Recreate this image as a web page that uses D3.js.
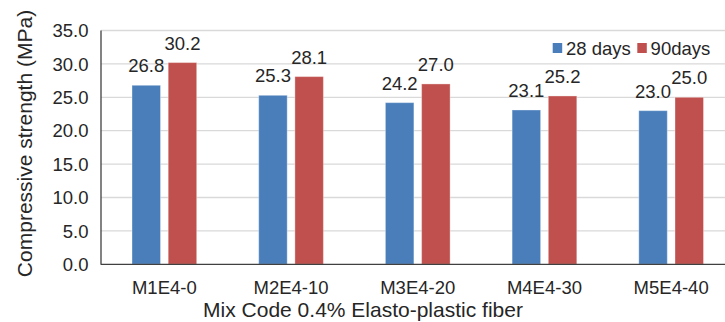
<!DOCTYPE html>
<html>
<head>
<meta charset="utf-8">
<script src="https://cdn.jsdelivr.net/npm/d3@7/dist/d3.min.js"></script>
<style>
  html, body { margin: 0; padding: 0; background: #fff; }
  svg { display: block; font-family: Arial, "Liberation Sans", sans-serif; }
</style>
</head>
<body>
<svg id="chart" width="725" height="322"></svg>
<script>
const categories = ["M1E4-0", "M2E4-10", "M3E4-20", "M4E4-30", "M5E4-40"];
const seriesNames = ["28 days", "90days"];
const days28 = [26.8, 25.3, 24.2, 23.1, 23.0];
const days90 = [30.2, 28.1, 27.0, 25.2, 25.0];
const yTicks = [0, 5, 10, 15, 20, 25, 30, 35];
const colors = ["#4a7ebb", "#c0504d"];
const yTitle = "Compressive strength (MPa)";
const xTitle = "Mix Code 0.4% Elasto-plastic fiber";

(function () {
const svg = d3.select("#chart");
const mLeft = 101, mRight = 734.5, mTop = 30.5, mBottom = 264.3;
const textColor = "#262626";

const x = d3.scaleBand().domain(categories).range([mLeft, mRight]).paddingInner(0).paddingOuter(0);
const y = d3.scaleLinear().domain([0, 35]).range([mBottom, mTop]);
const barW = 28.5, gap = 7.7;

// gridlines
svg.append("g").selectAll("line").data(yTicks.filter(d => d > 0)).join("line")
  .attr("x1", mLeft).attr("x2", 725)
  .attr("y1", d => y(d)).attr("y2", d => y(d))
  .attr("stroke", "#d9d9d9").attr("stroke-width", 1.3);

// y tick labels
svg.append("g").selectAll("text").data(yTicks).join("text")
  .attr("x", 88.5).attr("y", d => y(d)).attr("dy", "0.36em")
  .attr("text-anchor", "end").attr("font-size", 18.5).attr("fill", textColor)
  .text(d => d.toFixed(1));

const series = [days28, days90];
series.forEach((vals, si) => {
  const g = svg.append("g");
  const bx = (c) => x(c) + x.bandwidth() / 2 - (barW + gap / 2) + si * (barW + gap);
  g.selectAll("rect").data(categories).join("rect")
    .attr("x", c => bx(c))
    .attr("width", barW)
    .attr("y", (c, i) => y(vals[i]))
    .attr("height", (c, i) => y(0) - y(vals[i]))
    .attr("fill", colors[si])
    .attr("stroke", "rgba(255,255,255,0.35)").attr("stroke-width", 1);
  g.selectAll("text").data(categories).join("text")
    .attr("x", c => bx(c) + barW / 2)
    .attr("y", (c, i) => y(vals[i]) - 13)
    .attr("text-anchor", "middle").attr("font-size", 18.5).attr("fill", textColor)
    .text((c, i) => vals[i].toFixed(1));
});

// axes lines
svg.append("line").attr("x1", mLeft).attr("x2", mLeft).attr("y1", mTop).attr("y2", mBottom + 0.5)
  .attr("stroke", "#404040").attr("stroke-width", 1.3);
svg.append("line").attr("x1", mLeft).attr("x2", 725).attr("y1", mBottom).attr("y2", mBottom)
  .attr("stroke", "#404040").attr("stroke-width", 1.3);

// x tick labels
svg.append("g").selectAll("text").data(categories).join("text")
  .attr("x", c => x(c) + x.bandwidth() / 2).attr("y", 294)
  .attr("text-anchor", "middle").attr("font-size", 18.5).attr("fill", textColor)
  .text(c => c);

// axis titles
svg.append("text").attr("x", 363).attr("y", 317)
  .attr("text-anchor", "middle").attr("font-size", 21).attr("fill", textColor).text(xTitle);
svg.append("text").attr("transform", "translate(32,143.5) rotate(-90)")
  .attr("text-anchor", "middle").attr("font-size", 21).attr("fill", textColor).text(yTitle);

// legend
const legendX = [552.7, 637.3];
seriesNames.forEach((s, i) => {
  svg.append("rect").attr("x", legendX[i]).attr("y", 43).attr("width", 9.5).attr("height", 10)
    .attr("fill", colors[i]);
  svg.append("text").attr("x", legendX[i] + 13.3).attr("y", 55)
    .attr("font-size", 18.5).attr("fill", textColor).text(s);
});
})();
</script>
</body>
</html>
